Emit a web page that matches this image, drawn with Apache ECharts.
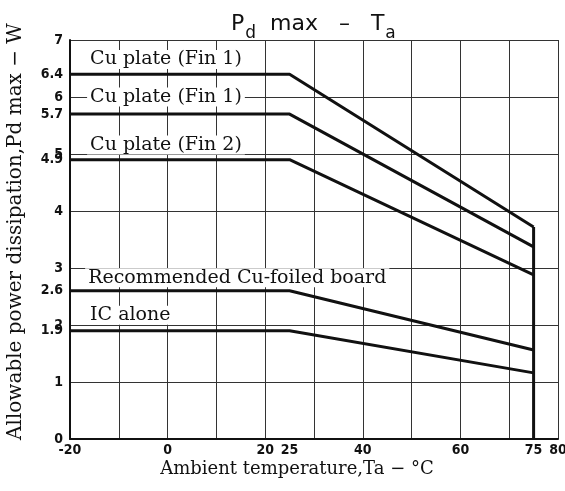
<!DOCTYPE html>
<html><head><meta charset="utf-8">
<script src="https://cdn.jsdelivr.net/npm/echarts@6/dist/echarts.min.js"></script>
<style>html,body{margin:0;padding:0;background:#fff}#c{width:565px;height:491px}</style>
</head><body><div id="c"></div>
<script>
// Data
const breakX = [-20, 25, 75];
const fin1Top = [6.4, 6.4, 3.72];
const fin1 = [5.7, 5.7, 3.37];
const fin2 = [4.9, 4.9, 2.88];
const cuBoard = [2.6, 2.6, 1.56];
const icAlone = [1.9, 1.9, 1.16];
const cutoffX = [75, 75];
const cutoffY = [0, 3.72];
const xTickLabels = [-20, 0, 20, 25, 40, 60, 75, 80];
const yTickLabels = [0, 1, 1.9, 2, 2.6, 3, 4, 4.9, 5, 5.7, 6, 6.4, 7];
const seriesNames = ['Cu plate (Fin 1)', 'Cu plate (Fin 1)', 'Cu plate (Fin 2)', 'Recommended Cu-foiled board', 'IC alone'];

const pairs = (xs, ys) => xs.map((x, i) => [x, ys[i]]);
const serif = 'DejaVu Serif';
const tickFont = {fontFamily: 'DejaVu Sans Condensed', fontSize: 14, fontWeight: 'bold', color: '#111'};

const lineSeries = (name, ys, labelCoord) => ({
  type: 'line', name, data: pairs(breakX, ys), symbol: 'none',
  lineStyle: {color: '#111', width: 3}, z: 5,
  markPoint: {
    symbol: 'rect', symbolSize: 1, silent: true,
    itemStyle: {color: 'rgba(0,0,0,0)'},
    data: [{coord: labelCoord, value: 1}],
    label: {show: true, formatter: name, position: 'right', distance: 0, fontFamily: serif, fontSize: 19, color: '#111',
      backgroundColor: '#fff', padding: [0, 3, 0, 3]}
  }
});

const chart = echarts.init(document.getElementById('c'));
chart.setOption({
  animation: false,
  title: {
    text: '{m|P}{s|d}{m|  max   –   T}{s|a}', left: 226, top: 8,
    textStyle: {rich: {
      m: {fontFamily: 'DejaVu Sans', fontSize: 22, fontWeight: 'normal', color: '#111', verticalAlign: 'bottom'},
      s: {fontFamily: 'DejaVu Sans', fontSize: 17, fontWeight: 'normal', color: '#111', verticalAlign: 'bottom', padding: [0, 0, -7, 1]}
    }}
  },
  grid: {left: 70, right: 7, top: 40, bottom: 52, outerBoundsMode: 'none'},
  xAxis: [{
    type: 'value', min: -20, max: 80, interval: 10,
    axisLine: {show: true, onZero: false, lineStyle: {color: '#111', width: 2}},
    axisTick: {show: false},
    axisLabel: {show: false},
    splitLine: {show: true, lineStyle: {color: '#333', width: 1}},
    name: 'Ambient temperature,Ta − °C', nameLocation: 'middle', nameGap: 21,
    nameTextStyle: {fontFamily: serif, fontSize: 18, color: '#111', verticalAlign: 'top', padding: [0, 34, 0, 0]}
  }, {
    type: 'value', min: -20, max: 80, position: 'bottom',
    axisLine: {show: false, onZero: false}, axisTick: {show: false}, splitLine: {show: false},
    axisLabel: Object.assign({customValues: xTickLabels, margin: 4}, tickFont)
  }],
  yAxis: [{
    type: 'value', min: 0, max: 7, interval: 1,
    axisLine: {show: true, onZero: false, lineStyle: {color: '#111', width: 2}},
    axisTick: {show: false},
    axisLabel: {show: false},
    splitLine: {show: true, lineStyle: {color: '#333', width: 1}},
    name: 'Allowable power dissipation,Pd max − W', nameLocation: 'middle', nameGap: 44,
    nameTextStyle: {fontFamily: serif, fontSize: 20, color: '#111', padding: [0, 0, 0, 16]}
  }, {
    type: 'value', min: 0, max: 7, position: 'left',
    axisLine: {show: false, onZero: false}, axisTick: {show: false}, splitLine: {show: false},
    axisLabel: Object.assign({customValues: yTickLabels, margin: 7}, tickFont)
  }],
  series: [
    lineSeries(seriesNames[0], fin1Top, [-16.6, 6.66]),
    lineSeries(seriesNames[1], fin1, [-16.6, 6.0]),
    lineSeries(seriesNames[2], fin2, [-16.6, 5.16]),
    lineSeries(seriesNames[3], cuBoard, [-17.0, 2.83]),
    lineSeries(seriesNames[4], icAlone, [-16.6, 2.17]),
    {type: 'line', name: 'cutoff', data: pairs(cutoffX, cutoffY), symbol: 'none',
     lineStyle: {color: '#111', width: 3}, z: 5}
  ]
});
</script></body></html>
